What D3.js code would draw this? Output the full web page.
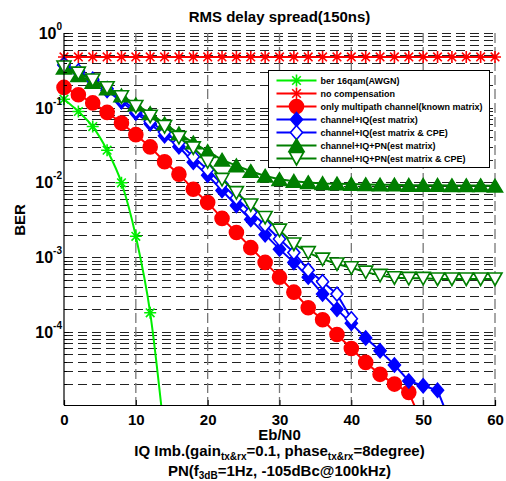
<!DOCTYPE html>
<html>
<head>
<meta charset="utf-8">
<script src="https://cdn.jsdelivr.net/npm/d3@7"></script>
<style>
  body { margin: 0; background: #fff; }
  text { font-family: "Liberation Sans", Arial, sans-serif; font-weight: bold; }
</style>
</head>
<body>
<div id="chart"></div>
<script>
// Svg defs
let w = 506,
    h = 481;
let m = {left: 64, top: 33, right: 11, bottom: 76};

// Data defs
let snr = [0, 2, 4, 6, 8, 10, 12, 14, 16, 18, 20, 22, 24, 26, 28, 30,
           32, 34, 36, 38, 40, 42, 44, 46, 48, 50, 52, 54, 56, 58, 60];

let berAwgn = [0.13, 0.089, 0.056, 0.027, 0.0099, 0.0019, 1.8e-4, 4e-6];

let berNoComp = [0.478, 0.478, 0.478, 0.478, 0.478, 0.478, 0.478, 0.478,
                 0.478, 0.478, 0.478, 0.478, 0.478, 0.478, 0.478, 0.478,
                 0.478, 0.478, 0.478, 0.478, 0.478, 0.478, 0.478, 0.478,
                 0.478, 0.478, 0.478, 0.478, 0.478, 0.478, 0.478];

let berKnown = [0.187, 0.149, 0.116, 0.0865, 0.0625, 0.0436, 0.0299, 0.0189,
                0.0129, 0.0081, 0.0054, 0.0033, 0.00214, 0.00134, 8.5e-4, 5.4e-4,
                3.4e-4, 2.1e-4, 1.45e-4, 9.2e-5, 6.0e-5, 3.9e-5, 2.7e-5, 2.0e-5,
                1.55e-5, 5.5e-6];

let berIqEst = [0.37, 0.30, 0.23, 0.17, 0.12, 0.085, 0.061, 0.042,
                0.030, 0.0186, 0.0125, 0.0078, 0.0049, 0.0032, 0.0020, 0.00128,
                8.5e-4, 5.4e-4, 3.2e-4, 2.0e-4, 1.3e-4, 8.3e-5, 5.6e-5, 3.6e-5,
                2.2e-5, 1.9e-5, 1.65e-5, 5.4e-6];

let berIqCpe = [0.38, 0.31, 0.24, 0.18, 0.13, 0.092, 0.066, 0.047,
                0.034, 0.022, 0.0148, 0.0095, 0.0062, 0.0040, 0.0027, 0.00175,
                0.00115, 6.7e-4, 4.7e-4, 3.2e-4, 1.5e-4];

let berPnEst = [0.34, 0.27, 0.22, 0.18, 0.145, 0.11, 0.084, 0.061,
                0.045, 0.034, 0.026, 0.020, 0.0168, 0.0141, 0.0122, 0.0110,
                0.0104, 0.0100, 0.0097, 0.0096, 0.0095, 0.0094, 0.0093, 0.0093,
                0.0092, 0.0092, 0.0092, 0.0091, 0.0091, 0.0091, 0.0090];

let berPnCpe = [0.35, 0.29, 0.235, 0.185, 0.14, 0.104, 0.077, 0.056,
                0.040, 0.029, 0.019, 0.011, 0.0073, 0.0050, 0.0034, 0.0023,
                0.0015, 0.00115, 9.4e-4, 8.1e-4, 7.2e-4, 6.3e-4, 5.7e-4, 5.3e-4,
                5.2e-4, 5.2e-4, 5.1e-4, 5.1e-4, 5.1e-4, 5.1e-4, 5.1e-4];

let xTicks = [0, 10, 20, 30, 40, 50, 60];
let yTickExp = [0, -1, -2, -3, -4];

let series = [
  {name: "ber 16qam(AWGN)", values: berAwgn, color: "#00ee00", marker: "star"},
  {name: "no compensation", values: berNoComp, color: "#ff0000", marker: "star"},
  {name: "only multipath channel(known matrix)", values: berKnown, color: "#ff0000", marker: "circle"},
  {name: "channel+IQ(est matrix)", values: berIqEst, color: "#0000ff", marker: "diamond"},
  {name: "channel+IQ(est matrix & CPE)", values: berIqCpe, color: "#0000ff", marker: "diamondOpen"},
  {name: "channel+IQ+PN(est matrix)", values: berPnEst, color: "#007f00", marker: "triUp"},
  {name: "channel+IQ+PN(est matrix & CPE)", values: berPnCpe, color: "#007f00", marker: "triDownOpen"}
];

let x = d3.scaleLinear().domain([0, 60]).range([m.left, w - m.right]);
let y = d3.scaleLog().domain([1.05e-5, 1]).range([h - m.bottom, m.top]);

let svg = d3.select("#chart")
  .append("svg")
  .attr("width", w)
  .attr("height", h)
  .attr("viewBox", [0, 0, w, h]);

svg.append("defs").append("clipPath")
  .attr("id", "plot-clip")
  .append("rect")
  .attr("x", m.left).attr("y", m.top)
  .attr("width", w - m.left - m.right)
  .attr("height", h - m.top - m.bottom);

// Grid
let yGrid = y.ticks().filter((d) => d >= y.domain()[0]);
svg.append("g")
  .selectAll("line")
  .data(yGrid)
  .join("line")
  .attr("x1", m.left)
  .attr("x2", w - m.right)
  .attr("y1", (d) => Math.round(y(d)) + 0.5)
  .attr("y2", (d) => Math.round(y(d)) + 0.5)
  .attr("stroke", "#222")
  .attr("stroke-dasharray", "9,5");

svg.append("g")
  .selectAll("line")
  .data(xTicks.slice(1))
  .join("line")
  .attr("x1", (d) => x(d))
  .attr("x2", (d) => x(d))
  .attr("y1", m.top)
  .attr("y2", h - m.bottom)
  .attr("stroke", "#777")
  .attr("stroke-width", 1.3)
  .attr("stroke-dasharray", "10,4");

// Markers
function markerPath(type) {
  switch (type) {
    case "star":
      return "M0,-6V6M-6,0H6M-4.3,-4.3L4.3,4.3M-4.3,4.3L4.3,-4.3";
    case "circle":
      return "M7,0A7,7 0 1,1 -7,0A7,7 0 1,1 7,0Z";
    case "diamond":
    case "diamondOpen":
      return "M0,-7L6,0L0,7L-6,0Z";
    case "triUp":
      return "M0,-6.5L7.5,6L-7.5,6Z";
    case "triDownOpen":
      return "M0,6.5L7,-6L-7,-6Z";
  }
}
function styleMarker(sel, s) {
  let open = s.marker.endsWith("Open") || s.marker == "star";
  sel.attr("d", markerPath(s.marker))
    .attr("fill", open ? (s.marker == "star" ? "none" : "#fff") : s.color)
    .attr("stroke", s.color)
    .attr("stroke-width", 1.6);
}

let line = d3.line()
  .x((d) => x(d[0]))
  .y((d) => y(d[1]));

series.forEach((s) => {
  let pts = s.values.map((v, i) => [snr[i], v]);
  let g = svg.append("g");
  g.append("path")
    .datum(pts)
    .attr("clip-path", "url(#plot-clip)")
    .attr("d", s.marker == "star" && s.values.length < 10 ? line.curve(d3.curveMonotoneX)(pts) : line.curve(d3.curveLinear)(pts))
    .attr("fill", "none")
    .attr("stroke", s.color)
    .attr("stroke-width", 2);
  g.selectAll("path.mk")
    .data(pts.filter((d) => d[1] >= y.domain()[0]))
    .join("path")
    .attr("class", "mk")
    .attr("transform", (d) => `translate(${x(d[0])},${y(d[1])})`)
    .call(styleMarker, s);
});

// Axes
svg.append("g")
  .attr("transform", `translate(0,${h - m.bottom})`)
  .call(d3.axisBottom(x).tickValues(xTicks).tickSize(-5).tickPadding(9))
  .call((g) => g.select(".domain").attr("stroke", "#000").attr("stroke-width", 1.2))
  .call((g) => g.selectAll(".tick text").attr("font-size", 15).attr("font-family", null).attr("fill", "#000"));

svg.append("line")
  .attr("x1", m.left).attr("x2", m.left)
  .attr("y1", m.top).attr("y2", h - m.bottom)
  .attr("stroke", "#000").attr("stroke-width", 1.2);

svg.append("g")
  .selectAll("line")
  .data(yGrid)
  .join("line")
  .attr("x1", m.left)
  .attr("x2", (d) => m.left + (Math.abs(Math.log10(d) - Math.round(Math.log10(d))) < 1e-9 ? 5 : 3))
  .attr("y1", (d) => Math.round(y(d)) + 0.5)
  .attr("y2", (d) => Math.round(y(d)) + 0.5)
  .attr("stroke", "#000");

let yl = svg.append("g")
  .selectAll("text")
  .data(yTickExp)
  .join("text")
  .attr("x", 62)
  .attr("y", (d) => y(Math.pow(10, d)) + 6)
  .attr("text-anchor", "end")
  .attr("font-size", 16);
yl.append("tspan").text("10");
yl.append("tspan").attr("dy", -9).attr("font-size", 10).text((d) => d);

// Titles
svg.append("text")
  .attr("x", (m.left + w - m.right) / 2)
  .attr("y", 22)
  .attr("text-anchor", "middle")
  .attr("font-size", 15)
  .text("RMS delay spread(150ns)");

svg.append("text")
  .attr("transform", "translate(25,220) rotate(-90)")
  .attr("text-anchor", "middle")
  .attr("font-size", 15)
  .text("BER");

let cx = (m.left + w - m.right) / 2;
svg.append("text")
  .attr("x", cx).attr("y", 440)
  .attr("text-anchor", "middle")
  .attr("font-size", 15)
  .text("Eb/N0");

let t2 = svg.append("text")
  .attr("x", cx).attr("y", 456)
  .attr("text-anchor", "middle")
  .attr("font-size", 15);
t2.append("tspan").text("IQ Imb.(gain");
t2.append("tspan").attr("font-size", 10).attr("dy", 4).text("tx&rx");
t2.append("tspan").attr("dy", -4).text("=0.1, phase");
t2.append("tspan").attr("font-size", 10).attr("dy", 4).text("tx&rx");
t2.append("tspan").attr("dy", -4).text("=8degree)");

let t3 = svg.append("text")
  .attr("x", cx).attr("y", 476)
  .attr("text-anchor", "middle")
  .attr("font-size", 15);
t3.append("tspan").text("PN(f");
t3.append("tspan").attr("font-size", 10).attr("dy", 3).text("3dB");
t3.append("tspan").attr("dy", -3).text("=1Hz, -105dBc@100kHz)");

// Legend
let lg = svg.append("g").attr("transform", "translate(268.5,70.5)");
lg.append("rect")
  .attr("width", 221)
  .attr("height", 97)
  .attr("fill", "#fff")
  .attr("stroke", "#000");
series.forEach((s, i) => {
  let yy = 10 + i * 13;
  lg.append("line")
    .attr("x1", 8).attr("x2", 48)
    .attr("y1", yy).attr("y2", yy)
    .attr("stroke", s.color).attr("stroke-width", 2);
  lg.append("path")
    .attr("transform", `translate(28,${yy})`)
    .call(styleMarker, s);
  lg.append("text")
    .attr("x", 52).attr("y", yy + 3.5)
    .attr("font-size", 9)
    .text(s.name);
});
</script>
</body>
</html>
